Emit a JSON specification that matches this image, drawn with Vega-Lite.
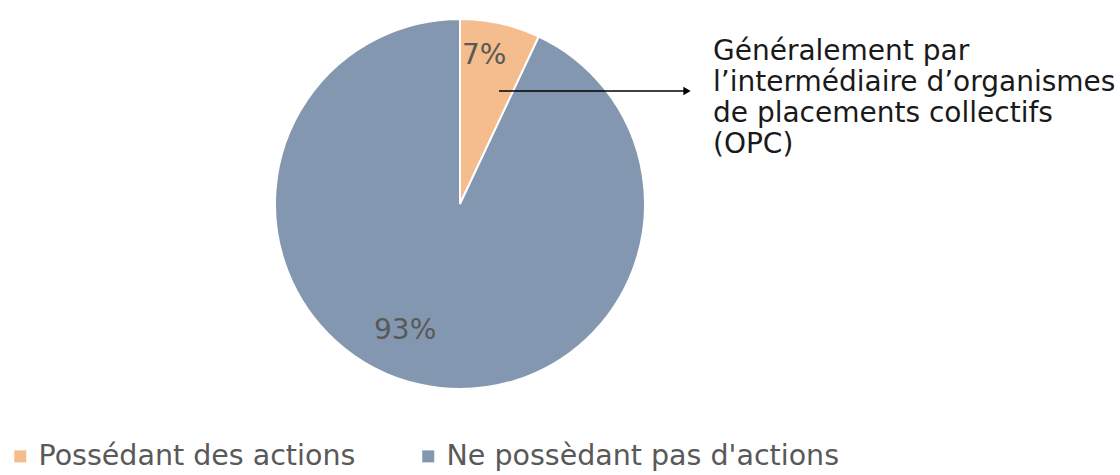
{
  "$schema": "https://vega.github.io/schema/vega-lite/v6.json",
  "width": 370,
  "height": 370,
  "autosize": {"type": "none"},
  "padding": {"left": 275, "top": 19, "right": 475, "bottom": 86},
  "background": "white",
  "config": {"view": {"stroke": null}, "font": "DejaVu Sans"},
  "data": {
    "values": [
      {"categorie": "Possédant des actions", "part": 7, "ordre": 1, "etiquette": "7%"},
      {"categorie": "Ne possèdant pas d'actions", "part": 93, "ordre": 2, "etiquette": "93%"}
    ]
  },
  "layer": [
    {
      "mark": {"type": "arc", "outerRadius": 185, "stroke": "white", "strokeWidth": 2},
      "encoding": {
        "theta": {"field": "part", "type": "quantitative", "stack": true},
        "order": {"field": "ordre", "type": "quantitative"},
        "color": {
          "field": "categorie",
          "type": "nominal",
          "sort": ["Possédant des actions", "Ne possèdant pas d'actions"],
          "scale": {
            "domain": ["Possédant des actions", "Ne possèdant pas d'actions"],
            "range": ["#F5BC8E", "#8497B0"]
          },
          "legend": {
            "title": null,
            "orient": "none",
            "legendX": -269,
            "legendY": 423,
            "direction": "horizontal",
            "symbolType": "square",
            "symbolSize": 144,
            "symbolStrokeWidth": 0,
            "labelFontSize": 28.5,
            "labelColor": "#595959",
            "labelFont": "DejaVu Sans",
            "labelOffset": 4,
            "columnPadding": 58,
            "padding": 0,
            "labelLimit": 600
          }
        }
      }
    },
    {
      "mark": {"type": "text", "radius": 152, "dx": -9, "fontSize": 28, "fill": "#595959"},
      "encoding": {
        "theta": {"field": "part", "type": "quantitative", "stack": true},
        "order": {"field": "ordre", "type": "quantitative"},
        "text": {"condition": {"test": "datum.ordre == 1", "field": "etiquette"}, "value": ""}
      }
    },
    {
      "mark": {"type": "text", "radius": 137, "dx": -25, "dy": -7, "fontSize": 28, "fill": "#595959"},
      "encoding": {
        "theta": {"field": "part", "type": "quantitative", "stack": true},
        "order": {"field": "ordre", "type": "quantitative"},
        "text": {"condition": {"test": "datum.ordre == 2", "field": "etiquette"}, "value": ""}
      }
    },
    {
      "data": {"values": [{"note": "annotation"}]},
      "mark": {
        "type": "text",
        "text": ["Généralement par", "l’intermédiaire d’organismes", "de placements collectifs", "(OPC)"],
        "align": "left",
        "baseline": "alphabetic",
        "lineHeight": 31,
        "fontSize": 28,
        "fill": "#1a1a1a"
      },
      "encoding": {
        "x": {"datum": 438, "type": "quantitative", "scale": {"domain": [0, 370], "range": [0, 370], "nice": false, "zero": false}, "axis": null},
        "y": {"datum": 41, "type": "quantitative", "scale": {"domain": [0, 370], "range": [0, 370], "nice": false, "zero": false}, "axis": null}
      }
    },
    {
      "data": {"values": [{"note": "fleche"}]},
      "mark": {"type": "rule", "color": "#000000", "strokeWidth": 1.5},
      "encoding": {
        "x": {"datum": 224, "type": "quantitative"},
        "x2": {"datum": 409},
        "y": {"datum": 72, "type": "quantitative"}
      }
    },
    {
      "data": {"values": [{"note": "pointe"}]},
      "mark": {"type": "point", "shape": "triangle-right", "filled": true, "color": "#000000", "size": 70, "opacity": 1},
      "encoding": {
        "x": {"datum": 412, "type": "quantitative"},
        "y": {"datum": 72, "type": "quantitative"}
      }
    }
  ]
}
